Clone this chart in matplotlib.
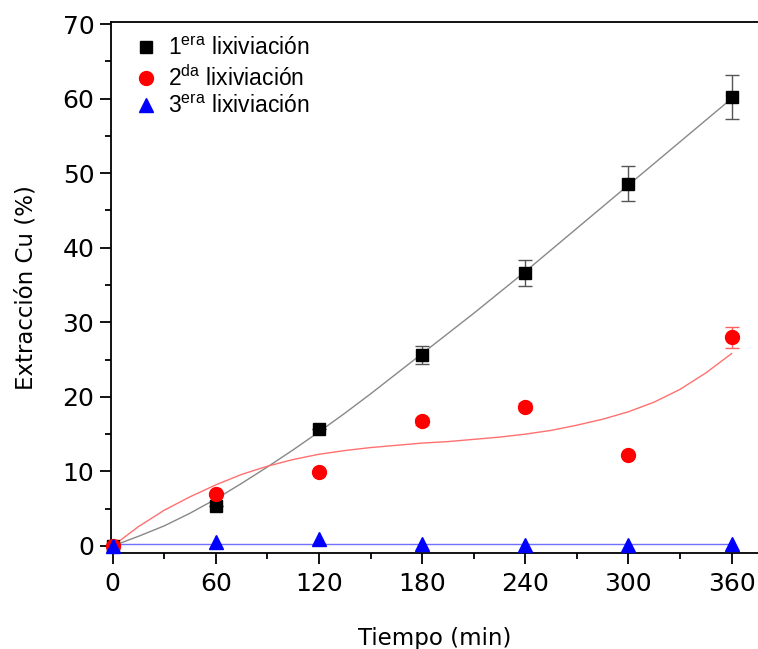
import numpy as np
import matplotlib
matplotlib.use("Agg")
import matplotlib.pyplot as plt
from matplotlib.lines import Line2D

plt.rcParams['font.family'] = ['DejaVu Sans']
plt.rcParams['mathtext.fontset'] = 'custom'
plt.rcParams['mathtext.rm'] = 'Liberation Sans'

# measured points
tiempo = [0, 60, 120, 180, 240, 300, 360]
lix1 = [0.0, 5.4, 15.7, 25.6, 36.6, 48.6, 60.2]
lix1_err = [0.0, 0.0, 0.0, 1.2, 1.8, 2.4, 3.0]
lix2 = [0.0, 7.0, 9.9, 16.7, 18.7, 12.2, 28.0]
lix2_err = [0.0, 0.0, 0.0, 0.5, 0.5, 0.0, 1.4]
lix3 = [0.0, 0.5, 0.9, 0.2, 0.1, 0.1, 0.2]

# fitted curves, every 15 min
t_fit = list(range(0, 361, 15))
fit1 = [0.0, 1.3, 2.7, 4.4, 6.3, 8.4, 10.6, 12.9, 15.3, 17.8, 20.4, 23.1, 25.8,
        28.5, 31.2, 34.0, 36.8, 39.7, 42.6, 45.5, 48.4, 51.3, 54.2, 57.1, 60.0]
fit2 = [0.0, 2.6, 4.8, 6.6, 8.2, 9.6, 10.7, 11.6, 12.3, 12.8, 13.2, 13.5, 13.8,
        14.0, 14.3, 14.6, 15.0, 15.5, 16.2, 17.0, 18.0, 19.3, 21.0, 23.2, 25.8]
fit3 = [0.3] * 25

labels = ["1$^{\\mathrm{era}}$ lixiviación",
          "2$^{\\mathrm{da}}$ lixiviación",
          "3$^{\\mathrm{era}}$ lixiviación"]

fig = plt.figure(figsize=(7.58, 6.49), dpi=100)
ax = fig.add_axes([111 / 758, 96 / 649, 647 / 758, 531 / 649])

ax.plot(t_fit, fit1, color='#888888', lw=1.0, zorder=2)
ax.plot(t_fit, fit2, color='#ff7070', lw=1.0, zorder=2)
ax.plot(t_fit, fit3, color='#7070ff', lw=1.0, zorder=2)

ax.errorbar(tiempo, lix1, yerr=lix1_err, fmt='s', color='black', ms=9,
            ecolor='#555555', elinewidth=1, capsize=5, capthick=1,
            zorder=3, clip_on=False)
ax.errorbar(tiempo, lix2, yerr=lix2_err, fmt='o', color='red', ms=10,
            ecolor='#ff6060', elinewidth=1, capsize=5, capthick=1,
            zorder=3, clip_on=False)
ax.plot(tiempo, lix3, '^', color='blue', ms=10, zorder=4, clip_on=False)

ax.set_xlim(-1, -1 + 647 / 1.719)
ax.set_ylim(-0.94, 70.27)
ax.set_xticks(np.arange(0, 361, 60))
ax.set_xticks(np.arange(30, 361, 60), minor=True)
ax.set_yticks(np.arange(0, 71, 10))
ax.set_yticks(np.arange(5, 70, 10), minor=True)
ax.spines['right'].set_visible(False)
for s in ['left', 'bottom', 'top']:
    ax.spines[s].set_linewidth(1.3)
ax.tick_params(which='major', direction='out', length=8, width=1.3,
               labelsize=18, pad=4)
ax.tick_params(which='minor', direction='out', length=4, width=1.3)
ax.tick_params(axis='x', which='major', pad=6)

ax.set_xlabel('Tiempo (min)', fontsize=16.5, labelpad=22)
ax.set_ylabel('Extracción Cu (%)', fontsize=16.5, labelpad=18)

handles = [Line2D([], [], ls='none', marker='s', color='black', ms=9),
           Line2D([], [], ls='none', marker='o', color='red', ms=10),
           Line2D([], [], ls='none', marker='^', color='blue', ms=10)]
ax.legend(handles, labels, loc='upper left', frameon=False,
          prop={'family': 'Liberation Sans', 'size': 16.5},
          bbox_to_anchor=(0.005, 1.01), handletextpad=0.45,
          labelspacing=0.2, handlelength=1.0)

fig.savefig('out.png', dpi=100)
